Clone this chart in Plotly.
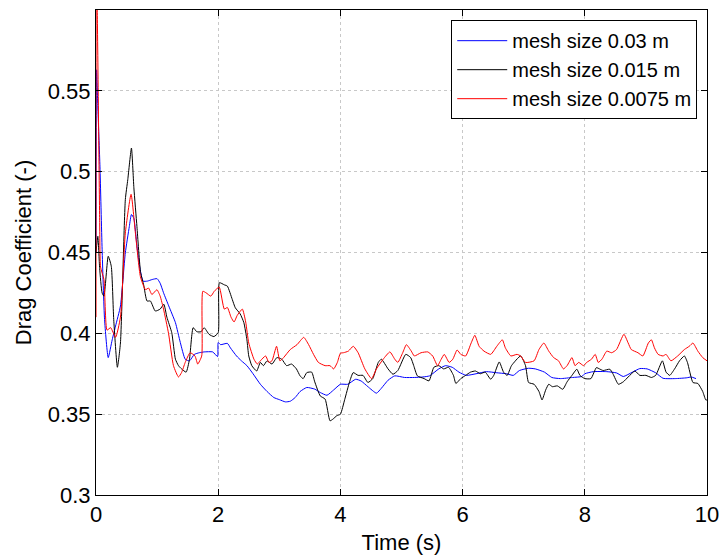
import plotly.graph_objects as go

# ---- data ----
t_blue = [0.0, 0.01, 0.03, 0.065, 0.10, 0.14, 0.20, 0.265, 0.32, 0.40, 0.48, 0.545, 0.58, 0.62, 0.67, 0.72,
          0.77, 0.84, 0.92, 1.00, 1.05, 1.105, 1.19, 1.30, 1.38, 1.46, 1.53, 1.61, 1.69, 1.77, 1.91, 1.99,
          2.00, 2.04, 2.15, 2.20, 2.30, 2.38, 2.47, 2.57, 2.69, 2.80, 2.91, 3.00, 3.10, 3.18, 3.26, 3.34,
          3.45, 3.58, 3.67, 3.78, 3.89, 4.00, 4.12, 4.25, 4.34, 4.45, 4.59, 4.67, 4.78, 4.89, 5.05, 5.21,
          5.35, 5.46, 5.61, 5.72, 5.83, 5.94, 6.06, 6.22, 6.39, 6.56, 6.72, 6.83, 6.93, 7.08, 7.19, 7.34,
          7.46, 7.60, 7.80, 7.95, 8.00, 8.14, 8.36, 8.52, 8.63, 8.78, 8.90, 9.02, 9.16, 9.28, 9.48, 9.67,
          9.74, 9.82]
cd_blue = [0.45, 0.563, 0.54, 0.503, 0.452, 0.4086, 0.385, 0.396, 0.4045, 0.4169, 0.4498, 0.466, 0.4735, 0.471,
           0.4539, 0.44, 0.4323, 0.4323, 0.4333, 0.4338, 0.431, 0.4251, 0.417, 0.4066, 0.3943, 0.384, 0.383,
           0.387, 0.388, 0.3885, 0.3885, 0.3856, 0.3943, 0.393, 0.3938, 0.391, 0.386, 0.383, 0.380, 0.375,
           0.3685, 0.364, 0.3603, 0.359, 0.3576, 0.358, 0.3603, 0.364, 0.3665, 0.3655, 0.3634, 0.3617, 0.365,
           0.3685, 0.3685, 0.3716, 0.3705, 0.367, 0.363, 0.366, 0.371, 0.3737, 0.3727, 0.3727, 0.373, 0.3737,
           0.378, 0.380, 0.379, 0.376, 0.374, 0.375, 0.3763, 0.3756, 0.375, 0.374, 0.377, 0.3784, 0.378,
           0.376, 0.3727, 0.372, 0.3727, 0.3733, 0.375, 0.3763, 0.3763, 0.3755, 0.3733, 0.376, 0.3782,
           0.378, 0.3756, 0.3722, 0.372, 0.3725, 0.373, 0.372]

t_black = [0.0, 0.03, 0.06, 0.10, 0.13, 0.20, 0.25, 0.29, 0.35, 0.40, 0.48, 0.52, 0.58, 0.62, 0.67, 0.73,
           0.78, 0.835, 0.89, 0.97, 1.05, 1.11, 1.16, 1.24, 1.30, 1.35, 1.40, 1.475, 1.53, 1.59, 1.65, 1.72,
           1.77, 1.85, 1.93, 2.00, 2.02, 2.10, 2.15, 2.23, 2.28, 2.36, 2.42, 2.47, 2.50, 2.55, 2.63, 2.69,
           2.74, 2.80, 2.88, 2.96, 3.04, 3.12, 3.20, 3.28, 3.34, 3.39, 3.45, 3.53, 3.58, 3.67, 3.75, 3.83,
           3.88, 3.94, 4.00, 4.07, 4.15, 4.21, 4.29, 4.37, 4.45, 4.53, 4.62, 4.67, 4.78, 4.86, 4.94, 5.07,
           5.15, 5.20, 5.26, 5.37, 5.45, 5.53, 5.61, 5.69, 5.77, 5.85, 5.89, 5.97, 6.05, 6.13, 6.21, 6.29,
           6.37, 6.46, 6.51, 6.60, 6.67, 6.73, 6.80, 6.95, 7.03, 7.08, 7.17, 7.25, 7.30, 7.36, 7.41, 7.47,
           7.55, 7.64, 7.71, 7.79, 7.87, 7.92, 8.00, 8.10, 8.19, 8.24, 8.30, 8.41, 8.46, 8.55, 8.63, 8.71,
           8.82, 8.90, 9.00, 9.09, 9.16, 9.27, 9.33, 9.39, 9.47, 9.55, 9.63, 9.68, 9.77, 9.85, 9.93, 9.98,
           10.0]
cd_black = [0.45, 0.46, 0.44, 0.425, 0.423, 0.4477, 0.4415, 0.4086, 0.379, 0.394, 0.4827, 0.495, 0.5146, 0.49,
            0.466, 0.4376, 0.430, 0.420, 0.420, 0.4138, 0.415, 0.418, 0.410, 0.4004, 0.384, 0.380, 0.378,
            0.376, 0.384, 0.4035, 0.401, 0.401, 0.4035, 0.3994, 0.398, 0.4004, 0.4313, 0.430, 0.4292, 0.421,
            0.4158, 0.412, 0.4066, 0.396, 0.386, 0.380, 0.3767, 0.382, 0.380, 0.383, 0.381, 0.385, 0.384,
            0.380, 0.381, 0.378, 0.3737, 0.372, 0.3757, 0.376, 0.370, 0.3613, 0.3593, 0.3459, 0.347, 0.349,
            0.350, 0.359, 0.370, 0.3757, 0.374, 0.374, 0.3696, 0.372, 0.382, 0.384, 0.378, 0.3747, 0.377,
            0.387, 0.385, 0.380, 0.3737, 0.372, 0.3706, 0.379, 0.380, 0.378, 0.379, 0.374, 0.369, 0.372,
            0.374, 0.376, 0.3767, 0.375, 0.376, 0.3716, 0.374, 0.3823, 0.376, 0.374, 0.380, 0.386, 0.380,
            0.3696, 0.3685, 0.364, 0.3588, 0.365, 0.3685, 0.367, 0.3675, 0.3654, 0.370, 0.374, 0.3778,
            0.374, 0.372, 0.372, 0.3788, 0.378, 0.377, 0.3778, 0.375, 0.3685, 0.370, 0.373, 0.3767, 0.374,
            0.374, 0.3727, 0.374, 0.383, 0.376, 0.374, 0.378, 0.383, 0.386, 0.382, 0.3696, 0.369, 0.364,
            0.3588, 0.3588]

t_red = [0.0, 0.005, 0.02, 0.06, 0.075, 0.13, 0.18, 0.24, 0.32, 0.40, 0.48, 0.574, 0.645, 0.727, 0.81, 0.86,
         0.915, 0.997, 1.05, 1.105, 1.187, 1.268, 1.35, 1.40, 1.46, 1.54, 1.62, 1.665, 1.73, 1.748, 1.80,
         1.88, 1.935, 2.016, 2.10, 2.15, 2.21, 2.26, 2.31, 2.395, 2.45, 2.50, 2.585, 2.64, 2.69, 2.775,
         2.83, 2.88, 2.955, 3.01, 3.07, 3.18, 3.29, 3.40, 3.48, 3.56, 3.64, 3.75, 3.83, 3.89, 3.95, 4.00,
         4.05, 4.13, 4.21, 4.29, 4.40, 4.51, 4.59, 4.70, 4.81, 4.89, 4.94, 5.02, 5.08, 5.16, 5.21, 5.32,
         5.43, 5.51, 5.59, 5.65, 5.70, 5.78, 5.84, 5.91, 5.97, 6.05, 6.14, 6.20, 6.27, 6.35, 6.46, 6.56,
         6.65, 6.70, 6.79, 6.89, 6.95, 7.03, 7.17, 7.25, 7.33, 7.41, 7.49, 7.57, 7.65, 7.71, 7.79, 7.84,
         7.90, 7.98, 8.03, 8.11, 8.17, 8.22, 8.28, 8.36, 8.44, 8.52, 8.64, 8.71, 8.76, 8.87, 8.95, 9.04,
         9.09, 9.14, 9.20, 9.28, 9.33, 9.41, 9.52, 9.63, 9.71, 9.77, 9.85, 9.93, 10.0]
cd_red = [0.41, 0.62, 0.60, 0.47, 0.441, 0.4333, 0.402, 0.4035, 0.3975, 0.41, 0.462, 0.486, 0.462, 0.435,
          0.427, 0.428, 0.424, 0.427, 0.423, 0.415, 0.40, 0.38, 0.373, 0.3757, 0.382, 0.388, 0.386, 0.381,
          0.386, 0.426, 0.4251, 0.423, 0.426, 0.4286, 0.415, 0.416, 0.410, 0.407, 0.411, 0.415, 0.407,
          0.394, 0.384, 0.381, 0.383, 0.386, 0.382, 0.383, 0.392, 0.383, 0.385, 0.390, 0.393, 0.3975,
          0.393, 0.387, 0.382, 0.380, 0.380, 0.378, 0.382, 0.3877, 0.388, 0.389, 0.392, 0.388, 0.378,
          0.372, 0.378, 0.384, 0.3885, 0.384, 0.382, 0.388, 0.393, 0.389, 0.386, 0.388, 0.3885, 0.386,
          0.380, 0.384, 0.387, 0.382, 0.384, 0.3897, 0.387, 0.386, 0.394, 0.3988, 0.392, 0.389, 0.387,
          0.392, 0.396, 0.391, 0.386, 0.387, 0.386, 0.382, 0.383, 0.390, 0.394, 0.389, 0.385, 0.383,
          0.378, 0.380, 0.385, 0.380, 0.382, 0.380, 0.382, 0.384, 0.387, 0.382, 0.384, 0.389, 0.388,
          0.390, 0.3994, 0.394, 0.390, 0.388, 0.386, 0.394, 0.396, 0.391, 0.387, 0.386, 0.387, 0.383,
          0.386, 0.390, 0.392, 0.394, 0.389, 0.385, 0.383]

series_names = ["mesh size 0.03 m", "mesh size 0.015 m", "mesh size 0.0075 m"]
series_colors = ["#0000ff", "#000000", "#ff0000"]

x_ticks = [0, 2, 4, 6, 8, 10]
y_ticks = [0.3, 0.35, 0.4, 0.45, 0.5, 0.55]
y_tick_text = ["0.3", "0.35", "0.4", "0.45", "0.5", "0.55"]

FONT = "Liberation Sans, Arial, Helvetica, sans-serif"

fig = go.Figure()
for t, cd, name, col in zip([t_blue, t_black, t_red], [cd_blue, cd_black, cd_red],
                            series_names, series_colors):
    fig.add_trace(go.Scatter(x=t, y=cd, mode="lines", name=name,
                             line=dict(color=col, width=1, shape="spline", smoothing=0.5)))

axis_common = dict(
    showline=True, linecolor="black", linewidth=1, mirror="ticks",
    ticks="inside", ticklen=6, tickcolor="black", tickwidth=1,
    showgrid=True, gridcolor="#c8c8c8", griddash="dot", gridwidth=1,
    zeroline=False, tickfont=dict(family=FONT, size=22, color="black"),
)

fig.update_layout(
    width=728, height=560,
    margin=dict(l=96, r=16, t=9, b=64),
    paper_bgcolor="white", plot_bgcolor="white",
    font=dict(family=FONT, size=22, color="black"),
    showlegend=True,
    legend=dict(x=0.984, y=0.979, xanchor="right", yanchor="top",
                bgcolor="white", bordercolor="black", borderwidth=1,
                font=dict(family=FONT, size=20, color="black"),
                tracegroupgap=0, itemwidth=50),
    xaxis=dict(range=[0, 10], tickvals=x_ticks, ticktext=[str(v) for v in x_ticks],
               title=dict(text="Time (s)", standoff=8, font=dict(family=FONT, size=22)),
               **axis_common),
    yaxis=dict(range=[0.3, 0.6], tickvals=y_ticks, ticktext=y_tick_text,
               title=dict(text="Drag Coefficient (-)", standoff=10, font=dict(family=FONT, size=22)),
               **axis_common),
)

fig.write_html("out.html")
